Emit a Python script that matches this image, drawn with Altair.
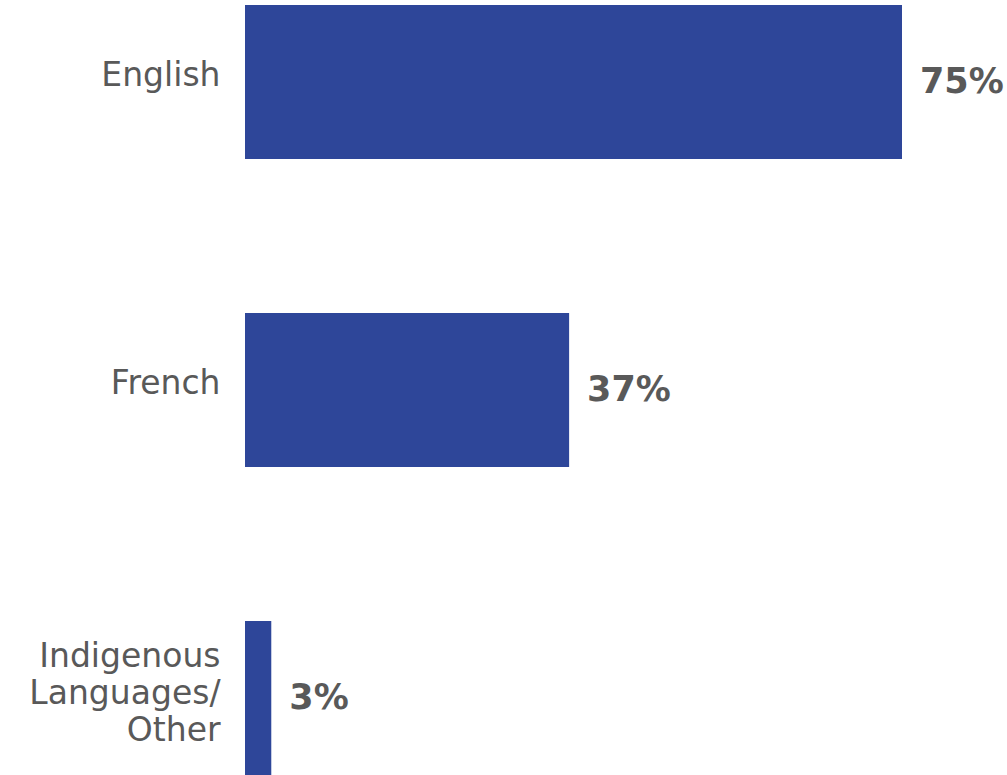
import altair as alt
import pandas as pd

categories = ["English", "French", "Indigenous|Languages/|Other"]
values = [75, 37, 3]
value_labels = ["75%", "37%", "3%"]

df = pd.DataFrame({"cat": categories, "val": values, "lab": value_labels})

FONT = "DejaVu Sans"
GRAY = "#595959"
BLUE = "#2E4699"

y = alt.Y(
    "cat:N",
    sort=categories,
    scale=alt.Scale(paddingInner=0.5, paddingOuter=0),
    axis=alt.Axis(
        title=None, ticks=False, domain=False, grid=False,
        labelExpr="split(datum.label, '|')",
        labelFont=FONT, labelFontSize=33, labelColor=GRAY,
        labelPadding=25, labelLineHeight=37, labelLimit=400,
        labelOffset={"condition": {"test": "indexof(datum.value, '|') >= 0", "value": -41}, "value": -6},
    ),
)
x = alt.X("val:Q", scale=alt.Scale(domain=[0, 75]), axis=None)

bars = alt.Chart(df).mark_bar(color=BLUE).encode(x=x, y=y)
text = alt.Chart(df).mark_text(
    align="left", baseline="middle", dx=18, dy=0,
    font=FONT, fontSize=35, fontWeight="bold", color=GRAY,
).encode(x=x, y=y, text="lab:N")

chart = (bars + text).properties(
    width=657, height=770,
    autosize=alt.AutoSizeParams(type="none"),
    padding={"left": 245, "top": 5, "right": 105, "bottom": 0},
).configure_view(stroke=None)

chart.save("out.html", embed_options={"renderer": "svg", "actions": False})
